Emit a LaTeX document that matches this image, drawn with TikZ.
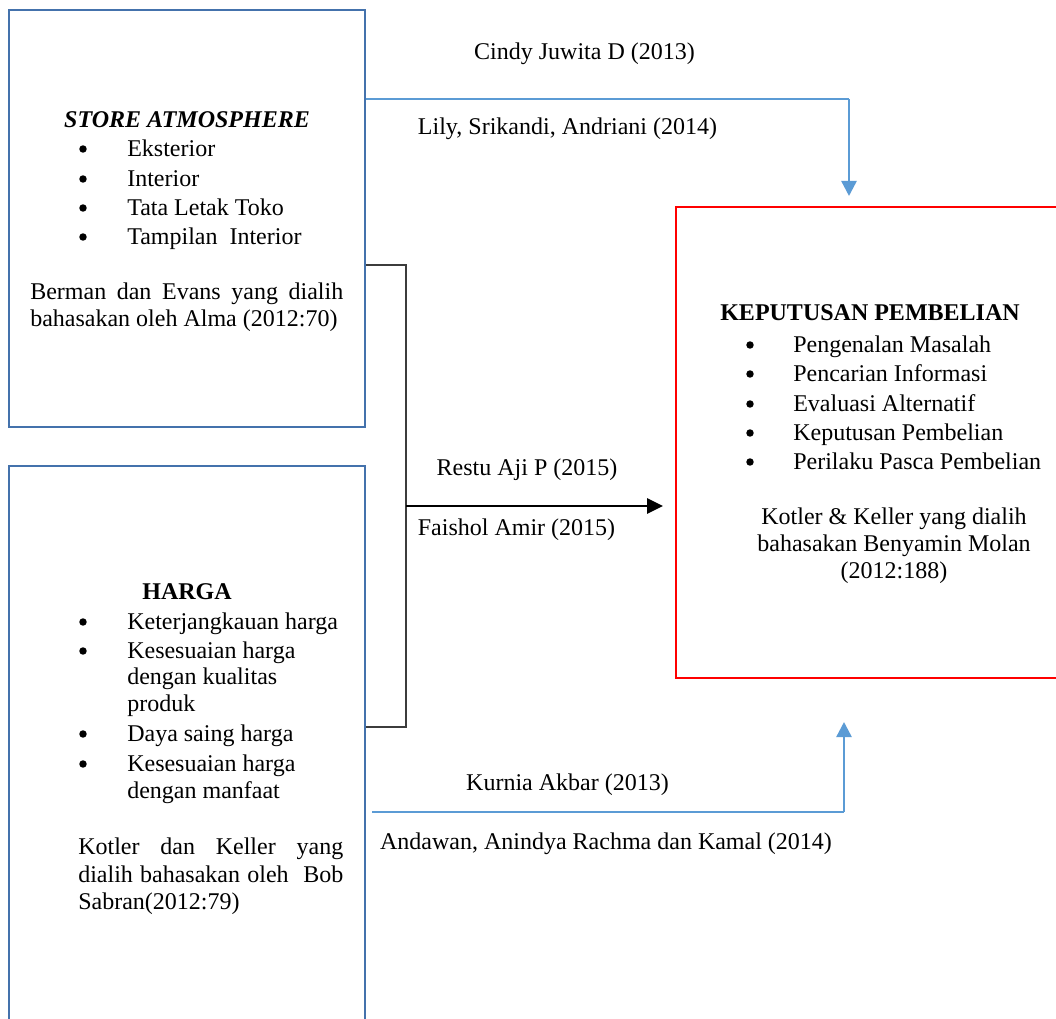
\documentclass[tikz,border=0pt]{standalone}
\usepackage{fontspec}
\setmainfont{Liberation Serif}
\usetikzlibrary{arrows.meta,fit}
\definecolor{boxblue}{RGB}{68,114,172}
\definecolor{arrowblue}{RGB}{91,155,213}
\definecolor{bracketgray}{RGB}{60,60,60}
\begin{document}
\begin{tikzpicture}[x=0.75pt,y=-0.75pt,
  font=\fontsize{18}{20}\selectfont,
  box/.style={draw=boxblue,line width=1.5pt,inner sep=0pt},
  redbox/.style={draw=red,line width=1.8pt,inner sep=0pt},
  txt/.style={inner sep=0pt,anchor=mid west,yshift=-3.5pt},
  ctxt/.style={inner sep=0pt,anchor=mid,yshift=-3.5pt},
  bul/.style={circle,fill=black,inner sep=0pt,minimum size=5.6pt},
  thinblue/.style={draw=arrowblue,line width=0.9pt},
  thickblue/.style={draw=arrowblue,line width=1.8pt,-{Triangle[width=11.25pt,length=11.25pt]}},
  blackarrow/.style={draw=black,line width=1.5pt,-{Triangle[width=11.5pt,length=12pt]}},
  bracket/.style={draw=bracketgray,line width=0.9pt}]
\useasboundingbox (0,0) rectangle (1056,1019);
\clip (0,0) rectangle (1056,1019);
\fill[white] (0,0) rectangle (1056,1019);

% boxes
\node[box,fit={(9,10) (365,427)}] (sa) {};
\node[box,fit={(9,466) (365,1040)}] (hg) {};
\node[redbox,fit={(676,207) (1075,678)}] (kp) {};

% store atmosphere text
\node[ctxt,font=\fontsize{18}{20}\selectfont\bfseries\itshape] (saT) at (187,120) {STORE ATMOSPHERE};
\node[bul] (sab1) at (83,149) {};
\node[txt] (sa1) at (127,149) {Eksterior};
\node[bul] (sab2) at (83,179) {};
\node[txt] (sa2) at (127,179) {Interior};
\node[bul] (sab3) at (83,208) {};
\node[txt] (sa3) at (127,208) {Tata Letak Toko};
\node[bul] (sab4) at (83,237) {};
\node[txt] (sa4) at (127,237) {Tampilan\ \ Interior};
\node[txt] (sar1) at (30,292) {\makebox[234.75pt][s]{Berman dan Evans yang dialih}};
\node[txt] (sar2) at (30,319) {bahasakan oleh Alma (2012:70)};

% harga text
\node[ctxt,font=\fontsize{18}{20}\selectfont\bfseries] (hgT) at (187,592) {HARGA};
\node[bul] (hgb1) at (83,622) {};
\node[txt] (hg1) at (127,622) {Keterjangkauan harga};
\node[bul] (hgb2) at (83,651) {};
\node[txt] (hg2a) at (127,651) {Kesesuaian harga};
\node[txt] (hg2b) at (127,677) {dengan kualitas};
\node[txt] (hg2c) at (127,704) {produk};
\node[bul] (hgb3) at (83,734) {};
\node[txt] (hg3) at (127,734) {Daya saing harga};
\node[bul] (hgb4) at (83,764) {};
\node[txt] (hg4a) at (127,764) {Kesesuaian harga};
\node[txt] (hg4b) at (127,791) {dengan manfaat};
\node[txt] (hgr1) at (78,847) {\makebox[198.75pt][s]{Kotler dan Keller yang}};
\node[txt] (hgr2) at (78,875) {\makebox[198.75pt][s]{dialih bahasakan oleh\ \ Bob}};
\node[txt] (hgr3) at (78,902) {Sabran(2012:79)};

% keputusan text
\node[ctxt,font=\fontsize{18}{20}\selectfont\bfseries] (kpT) at (870,313) {KEPUTUSAN PEMBELIAN};
\node[bul] (kpb1) at (750,345) {};
\node[txt] (kp1) at (793,345) {Pengenalan Masalah};
\node[bul] (kpb2) at (750,374) {};
\node[txt] (kp2) at (793,374) {Pencarian Informasi};
\node[bul] (kpb3) at (750,404) {};
\node[txt] (kp3) at (793,404) {Evaluasi Alternatif};
\node[bul] (kpb4) at (750,433) {};
\node[txt] (kp4) at (793,433) {Keputusan Pembelian};
\node[bul] (kpb5) at (750,462) {};
\node[txt] (kp5) at (793,462) {Perilaku Pasca Pembelian};
\node[ctxt] (kpr1) at (894,517) {Kotler \& Keller yang dialih};
\node[ctxt] (kpr2) at (894,544) {bahasakan Benyamin Molan};
\node[ctxt] (kpr3) at (894,571) {(2012:188)};

% connector labels
\node[ctxt] (l1) at (584.5,52) {Cindy Juwita D (2013)};
\node[ctxt] (l2) at (567.5,127) {Lily, Srikandi, Andriani (2014)};
\node[ctxt] (l3) at (527,468) {Restu Aji P (2015)};
\node[ctxt] (l4) at (516.5,528) {Faishol Amir (2015)};
\node[ctxt] (l5) at (567.5,783) {Kurnia Akbar (2013)};
\node[ctxt] (l6) at (606,842) {Andawan, Anindya Rachma dan Kamal (2014)};

% connector points
\coordinate (topbend) at (849,99);
\coordinate (toptip) at (849,196);
\coordinate (botbend) at (844,812);
\coordinate (bottip) at (844,722);
\coordinate (brTop) at (406,265);
\coordinate (brBot) at (406,727);
\coordinate (brMid) at (406,506);
\coordinate (midtip) at (663,506);

% top blue connector
\draw[thinblue] (sa.east |- topbend) -- (topbend);
\draw[thickblue] (topbend) -- (toptip);
% bottom blue connector
\draw[thinblue] ([xshift=4.5pt]hg.east |- botbend) -- (botbend);
\draw[thickblue] (botbend) -- (bottip);
% bracket
\draw[bracket] (sa.east |- brTop) -- (brTop) -- (brBot) -- (hg.east |- brBot);
% black arrow
\draw[blackarrow] (brMid) -- (midtip);
\end{tikzpicture}
\end{document}
